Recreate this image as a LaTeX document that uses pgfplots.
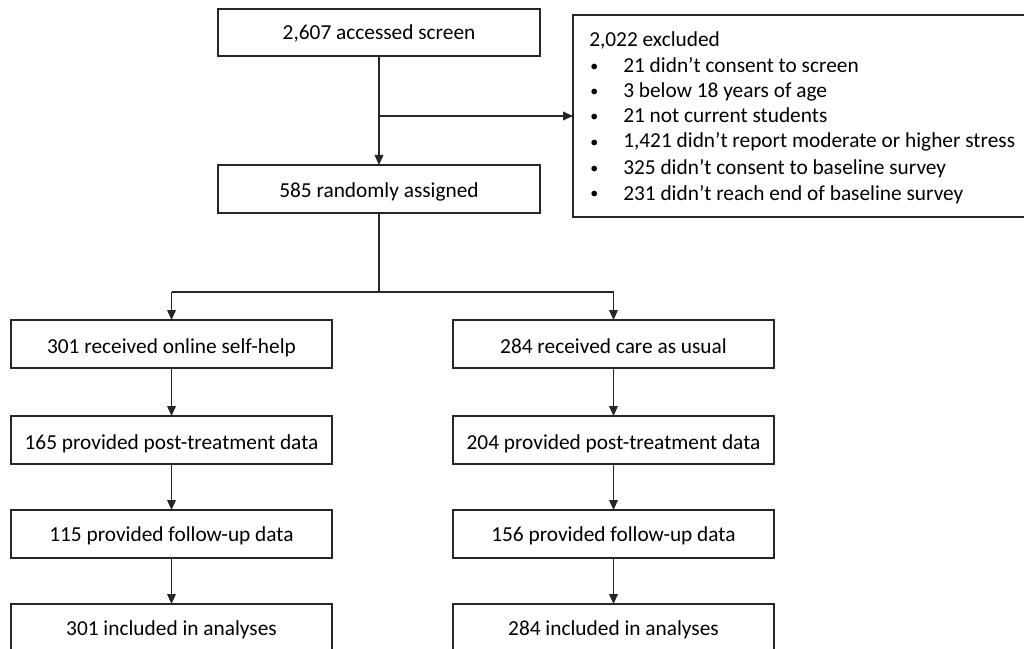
\documentclass[border=0pt]{standalone}
\usepackage{fontspec}
\setmainfont{Carlito}
\usepackage{pgfplots}
\pgfplotsset{compat=1.18}
\usetikzlibrary{arrows.meta}
\tikzset{lab/.style={font=\fontsize{16}{19}\selectfont, inner sep=0pt, anchor=base, text=black},
  labw/.style={lab, anchor=base west},
  bul/.style={font=\fontsize{12}{14}\selectfont, inner sep=0pt, anchor=base west, text=black}}
\begin{document}
\begin{tikzpicture}
\begin{axis}[
  scale only axis, width=768pt, height=486.75pt,
  xmin=0, xmax=1024, ymin=0, ymax=649, y dir=reverse,
  axis lines=none, clip=true,
  cycle list={{black!85, solid, no marks}},
  every axis plot/.append style={line width=1.1pt, black!85, solid, no marks, line join=miter},
]
% boxes
\addplot coordinates {(218,9) (540,9) (540,56) (218,56) (218,9) (540,9)};
\addplot coordinates {(218,165) (540,165) (540,213) (218,213) (218,165) (540,165)};
\addplot coordinates {(1030,15) (573,15) (573,217) (1030,217)};
% left column
\addplot coordinates {(11,320) (332,320) (332,368) (11,368) (11,320) (332,320)};
\addplot coordinates {(11,416) (332,416) (332,464) (11,464) (11,416) (332,416)};
\addplot coordinates {(11,510) (332,510) (332,558) (11,558) (11,510) (332,510)};
\addplot coordinates {(11,660) (11,604) (332,604) (332,660)};
% right column
\addplot coordinates {(453,320) (774,320) (774,368) (453,368) (453,320) (774,320)};
\addplot coordinates {(453,416) (774,416) (774,464) (453,464) (453,416) (774,416)};
\addplot coordinates {(453,510) (774,510) (774,558) (453,558) (453,510) (774,510)};
\addplot coordinates {(453,660) (453,604) (774,604) (774,660)};
% connectors
\addplot[-{Triangle[length=7.5pt,width=6.5pt]}] coordinates {(379,56) (379,165)};
\addplot[-{Triangle[length=7.5pt,width=6.5pt]}] coordinates {(379,116) (573,116)};
\addplot coordinates {(379,213) (379,292)};
\addplot coordinates {(171.5,292) (613.5,292)};
\addplot[-{Triangle[length=7.5pt,width=6.5pt]}] coordinates {(171.5,292) (171.5,320)};
\addplot[-{Triangle[length=7.5pt,width=6.5pt]}] coordinates {(613.5,292) (613.5,320)};
\addplot[-{Triangle[length=7.5pt,width=6.5pt]}] coordinates {(171.5,368) (171.5,416)};
\addplot[-{Triangle[length=7.5pt,width=6.5pt]}] coordinates {(171.5,464) (171.5,510)};
\addplot[-{Triangle[length=7.5pt,width=6.5pt]}] coordinates {(171.5,558) (171.5,604)};
\addplot[-{Triangle[length=7.5pt,width=6.5pt]}] coordinates {(613.5,368) (613.5,416)};
\addplot[-{Triangle[length=7.5pt,width=6.5pt]}] coordinates {(613.5,464) (613.5,510)};
\addplot[-{Triangle[length=7.5pt,width=6.5pt]}] coordinates {(613.5,558) (613.5,604)};
% box texts
\node[lab] at (axis cs:379,40) {2,607 accessed screen};
\node[lab] at (axis cs:379,197) {585 randomly assigned};
\node[lab] at (axis cs:171.5,353) {301 received online self-help};
\node[lab] at (axis cs:171.5,449) {165 provided post-treatment data};
\node[lab] at (axis cs:171.5,541) {115 provided follow-up data};
\node[lab] at (axis cs:171.5,635) {301 included in analyses};
\node[lab] at (axis cs:613.5,353) {284 received care as usual};
\node[lab] at (axis cs:613.5,449) {204 provided post-treatment data};
\node[lab] at (axis cs:613.5,541) {156 provided follow-up data};
\node[lab] at (axis cs:613.5,635) {284 included in analyses};
% excluded list
\node[labw] at (axis cs:589,47) {2,022 excluded};
\node[bul] at (axis cs:590,72) {•};
\node[labw] at (axis cs:623,73) {21 didn’t consent to screen};
\node[bul] at (axis cs:590,97) {•};
\node[labw] at (axis cs:623,98) {3 below 18 years of age};
\node[bul] at (axis cs:590,122) {•};
\node[labw] at (axis cs:623,123) {21 not current students};
\node[bul] at (axis cs:590,147) {•};
\node[labw] at (axis cs:623,148) {1,421 didn’t report moderate or higher stress};
\node[bul] at (axis cs:590,174) {•};
\node[labw] at (axis cs:623,175) {325 didn’t consent to baseline survey};
\node[bul] at (axis cs:590,199) {•};
\node[labw] at (axis cs:623,200) {231 didn’t reach end of baseline survey};
\end{axis}
\pgfresetboundingbox
\useasboundingbox (current axis.south west) rectangle (current axis.north east);
\end{tikzpicture}
\end{document}
